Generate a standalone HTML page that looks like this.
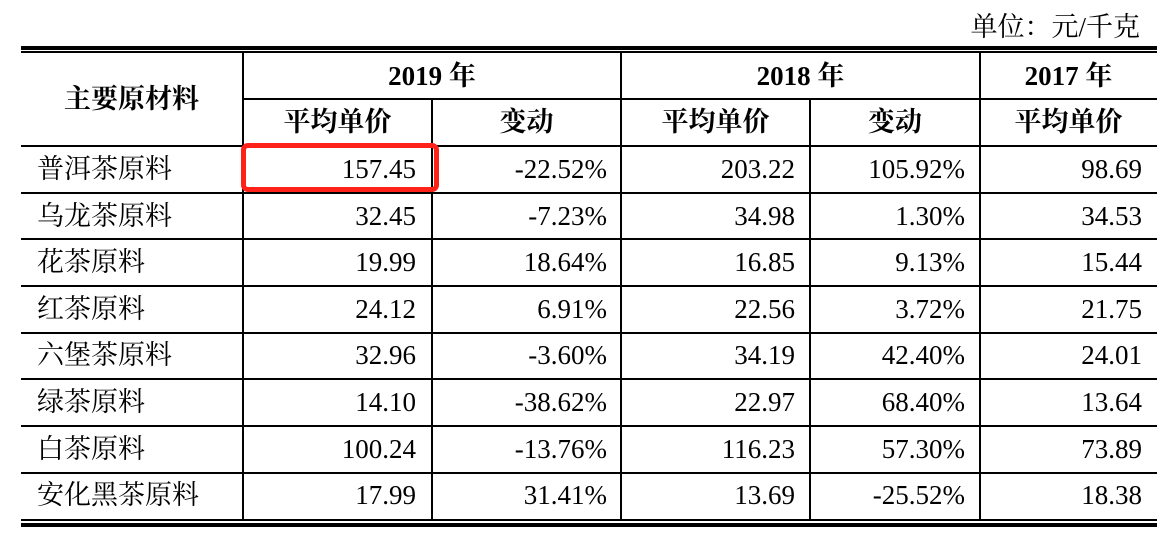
<!DOCTYPE html>
<html>
<head>
<meta charset="utf-8">
<style>
html,body{margin:0;padding:0;background:#fff;}
body{width:1175px;height:545px;position:relative;overflow:hidden;
 font-family:"Liberation Serif","Noto Serif CJK SC",serif;color:#000;font-size:27px;}
.h{position:absolute;background:#000;}
.v{position:absolute;background:#000;width:2px;}
.t{position:absolute;white-space:nowrap;}
.r{text-align:right;}
.c{text-align:center;}
.b{font-weight:bold;}
</style>
</head>
<body>
<div class="t r" style="left:800px;width:340px;top:8px;line-height:38px;">单位：元/千克</div>

<!-- top double rule -->
<div class="h" style="left:21px;width:1136px;top:46px;height:4px;"></div>
<div class="h" style="left:21px;width:1136px;top:51px;height:2px;"></div>

<!-- header lines -->
<div class="h" style="left:242px;width:915px;top:98px;height:2px;"></div>
<div class="h" style="left:21px;width:1136px;top:145px;height:2px;"></div>

<!-- row lines -->
<div class="h" style="left:21px;width:1136px;top:191.7px;height:2px;"></div>
<div class="h" style="left:21px;width:1136px;top:238.3px;height:2px;"></div>
<div class="h" style="left:21px;width:1136px;top:285px;height:2px;"></div>
<div class="h" style="left:21px;width:1136px;top:331.6px;height:2px;"></div>
<div class="h" style="left:21px;width:1136px;top:378.2px;height:2px;"></div>
<div class="h" style="left:21px;width:1136px;top:424.9px;height:2px;"></div>
<div class="h" style="left:21px;width:1136px;top:471.5px;height:2px;"></div>

<!-- bottom double rule -->
<div class="h" style="left:21px;width:1136px;top:518.5px;height:2px;"></div>
<div class="h" style="left:21px;width:1136px;top:522.5px;height:4px;"></div>

<!-- verticals -->
<div class="v" style="left:242px;top:53px;height:466px;"></div>
<div class="v" style="left:620px;top:53px;height:466px;"></div>
<div class="v" style="left:979px;top:53px;height:466px;"></div>
<div class="v" style="left:431px;top:99px;height:420px;"></div>
<div class="v" style="left:809px;top:99px;height:420px;"></div>

<!-- header text -->
<div class="t c b" style="left:21px;width:221px;top:53px;line-height:92px;">主要原材料</div>
<div class="t c b" style="left:243px;width:378px;top:53px;line-height:46px;">2019 年</div>
<div class="t c b" style="left:621px;width:359px;top:53px;line-height:46px;">2018 年</div>
<div class="t c b" style="left:980px;width:177px;top:53px;line-height:46px;">2017 年</div>
<div class="t c b" style="left:243px;width:189px;top:100px;line-height:45px;">平均单价</div>
<div class="t c b" style="left:432px;width:189px;top:100px;line-height:45px;">变动</div>
<div class="t c b" style="left:621px;width:189px;top:100px;line-height:45px;">平均单价</div>
<div class="t c b" style="left:810px;width:170px;top:100px;line-height:45px;">变动</div>
<div class="t c b" style="left:980px;width:177px;top:100px;line-height:45px;">平均单价</div>

<!-- data rows -->
<div style="position:absolute;left:0;top:147px;">
</div>

<div class="t" style="left:37px;top:147px;line-height:45px;">普洱茶原料</div>
<div class="t r" style="left:243px;width:173px;top:147px;line-height:45px;">157.45</div>
<div class="t r" style="left:432px;width:175px;top:147px;line-height:45px;">-22.52%</div>
<div class="t r" style="left:621px;width:174px;top:147px;line-height:45px;">203.22</div>
<div class="t r" style="left:810px;width:155px;top:147px;line-height:45px;">105.92%</div>
<div class="t r" style="left:980px;width:162px;top:147px;line-height:45px;">98.69</div>

<div class="t" style="left:37px;top:193.6px;line-height:45px;">乌龙茶原料</div>
<div class="t r" style="left:243px;width:173px;top:193.6px;line-height:45px;">32.45</div>
<div class="t r" style="left:432px;width:175px;top:193.6px;line-height:45px;">-7.23%</div>
<div class="t r" style="left:621px;width:174px;top:193.6px;line-height:45px;">34.98</div>
<div class="t r" style="left:810px;width:155px;top:193.6px;line-height:45px;">1.30%</div>
<div class="t r" style="left:980px;width:162px;top:193.6px;line-height:45px;">34.53</div>

<div class="t" style="left:37px;top:240.2px;line-height:45px;">花茶原料</div>
<div class="t r" style="left:243px;width:173px;top:240.2px;line-height:45px;">19.99</div>
<div class="t r" style="left:432px;width:175px;top:240.2px;line-height:45px;">18.64%</div>
<div class="t r" style="left:621px;width:174px;top:240.2px;line-height:45px;">16.85</div>
<div class="t r" style="left:810px;width:155px;top:240.2px;line-height:45px;">9.13%</div>
<div class="t r" style="left:980px;width:162px;top:240.2px;line-height:45px;">15.44</div>

<div class="t" style="left:37px;top:286.8px;line-height:45px;">红茶原料</div>
<div class="t r" style="left:243px;width:173px;top:286.8px;line-height:45px;">24.12</div>
<div class="t r" style="left:432px;width:175px;top:286.8px;line-height:45px;">6.91%</div>
<div class="t r" style="left:621px;width:174px;top:286.8px;line-height:45px;">22.56</div>
<div class="t r" style="left:810px;width:155px;top:286.8px;line-height:45px;">3.72%</div>
<div class="t r" style="left:980px;width:162px;top:286.8px;line-height:45px;">21.75</div>

<div class="t" style="left:37px;top:333.4px;line-height:45px;">六堡茶原料</div>
<div class="t r" style="left:243px;width:173px;top:333.4px;line-height:45px;">32.96</div>
<div class="t r" style="left:432px;width:175px;top:333.4px;line-height:45px;">-3.60%</div>
<div class="t r" style="left:621px;width:174px;top:333.4px;line-height:45px;">34.19</div>
<div class="t r" style="left:810px;width:155px;top:333.4px;line-height:45px;">42.40%</div>
<div class="t r" style="left:980px;width:162px;top:333.4px;line-height:45px;">24.01</div>

<div class="t" style="left:37px;top:380px;line-height:45px;">绿茶原料</div>
<div class="t r" style="left:243px;width:173px;top:380px;line-height:45px;">14.10</div>
<div class="t r" style="left:432px;width:175px;top:380px;line-height:45px;">-38.62%</div>
<div class="t r" style="left:621px;width:174px;top:380px;line-height:45px;">22.97</div>
<div class="t r" style="left:810px;width:155px;top:380px;line-height:45px;">68.40%</div>
<div class="t r" style="left:980px;width:162px;top:380px;line-height:45px;">13.64</div>

<div class="t" style="left:37px;top:426.6px;line-height:45px;">白茶原料</div>
<div class="t r" style="left:243px;width:173px;top:426.6px;line-height:45px;">100.24</div>
<div class="t r" style="left:432px;width:175px;top:426.6px;line-height:45px;">-13.76%</div>
<div class="t r" style="left:621px;width:174px;top:426.6px;line-height:45px;">116.23</div>
<div class="t r" style="left:810px;width:155px;top:426.6px;line-height:45px;">57.30%</div>
<div class="t r" style="left:980px;width:162px;top:426.6px;line-height:45px;">73.89</div>

<div class="t" style="left:37px;top:473.2px;line-height:45px;">安化黑茶原料</div>
<div class="t r" style="left:243px;width:173px;top:473.2px;line-height:45px;">17.99</div>
<div class="t r" style="left:432px;width:175px;top:473.2px;line-height:45px;">31.41%</div>
<div class="t r" style="left:621px;width:174px;top:473.2px;line-height:45px;">13.69</div>
<div class="t r" style="left:810px;width:155px;top:473.2px;line-height:45px;">-25.52%</div>
<div class="t r" style="left:980px;width:162px;top:473.2px;line-height:45px;">18.38</div>

<!-- red highlight box -->
<div style="position:absolute;left:241px;top:143px;width:188px;height:39px;border:5px solid #ff2218;border-radius:7px;"></div>
</body>
</html>
